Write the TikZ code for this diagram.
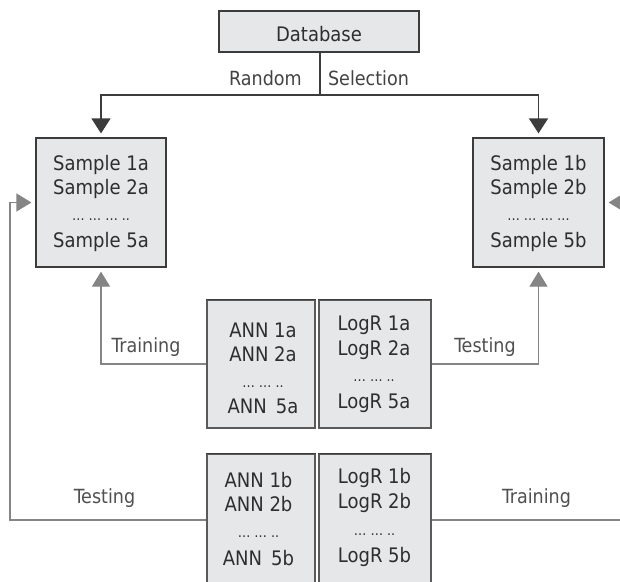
\documentclass[tikz,border=0pt]{standalone}
\usepackage{fontspec}
\setmainfont{DejaVu Sans Condensed}
\usetikzlibrary{arrows.meta}
\definecolor{boxfill}{HTML}{E6E7E9}
\definecolor{darkline}{HTML}{3C3C3C}
\definecolor{grayline}{HTML}{858585}
\definecolor{midline}{HTML}{5A5A5A}
\definecolor{txtc}{HTML}{2E2E2E}
\definecolor{lblc}{HTML}{505050}
\tikzset{
  dbox/.style={draw=darkline, fill=boxfill, line width=1.2pt, inner sep=0pt},
  mbox/.style={draw=midline, fill=boxfill, line width=1.1pt, inner sep=0pt},
  tl/.style={anchor=base, text=txtc, font=\fontsize{20}{24}\selectfont, inner sep=0pt},
  dotl/.style={anchor=base, text=txtc, font=\fontsize{14}{16}\selectfont, inner sep=0pt},
  lab/.style={anchor=base, text=lblc, font=\fontsize{19.5}{24}\selectfont, inner sep=0pt},
  darr/.style={draw=darkline, line width=1.2pt, -{Triangle[width=19pt,length=15pt]}, shorten >=4pt},
  garr/.style={draw=grayline, line width=1.2pt, -{Triangle[width=18pt,length=15pt]}, shorten >=4pt},
  dline/.style={draw=darkline, line width=1.2pt},
}
\begin{document}
\begin{tikzpicture}[x=1pt, y=-1pt]
\clip (0,0) rectangle (620,581);
\fill[white] (0,0) rectangle (620,581);

% boxes
\node[dbox, minimum width=200pt, minimum height=41pt] (db) at (319,31.5) {};
\node[dbox, minimum width=130pt, minimum height=129pt] (sa) at (101,202.5) {};
\node[dbox, minimum width=131pt, minimum height=129pt] (sb) at (538.5,202.5) {};
\node[mbox, minimum width=108pt, minimum height=128pt] (anna) at (261,364) {};
\node[mbox, minimum width=112pt, minimum height=128pt] (loga) at (375,364) {};
\node[mbox, minimum width=108pt, minimum height=132pt] (annb) at (261,520) {};
\node[mbox, minimum width=112pt, minimum height=132pt] (logb) at (375,520) {};
\draw[darkline, line width=1.2pt] (anna.north west) -- (anna.north east)
  (loga.north west) -- (loga.north east)
  (annb.north west) -- (annb.north east)
  (logb.north west) -- (logb.north east);

% texts
\node[tl] (tdb) at (319,41) {Database};
\node[lab, text=txtc!90] (trand) at (265.5,85) {Random};
\node[lab, text=txtc!90] (tsel) at (368.5,85) {Selection};

\node[tl] (s1a) at (101,170) {Sample 1a};
\node[tl] (s2a) at (101,194) {Sample 2a};
\node[dotl] (sda) at (101,220) {… … … ..};
\node[tl] (s5a) at (101,247) {Sample 5a};

\node[tl] (s1b) at (538.5,170) {Sample 1b};
\node[tl] (s2b) at (538.5,194) {Sample 2b};
\node[dotl] (sdb) at (538.5,220) {… … … …};
\node[tl] (s5b) at (538.5,247) {Sample 5b};

\node[tl] (a1a) at (263,337) {ANN 1a};
\node[tl] (a2a) at (263,361) {ANN 2a};
\node[dotl] (ada) at (263,387) {… … ..};
\node[tl] (a5a) at (263,413) {ANN\, 5a};

\node[tl] (l1a) at (374,330) {LogR 1a};
\node[tl] (l2a) at (374,355) {LogR 2a};
\node[dotl] (lda) at (374,381) {… … ..};
\node[tl] (l5a) at (374,408) {LogR 5a};

\node[tl] (a1b) at (258.5,487) {ANN 1b};
\node[tl] (a2b) at (258.5,511) {ANN 2b};
\node[dotl] (adb) at (258.5,537) {… … ..};
\node[tl] (a5b) at (258.5,565) {ANN\, 5b};

\node[tl] (l1b) at (374.5,483) {LogR 1b};
\node[tl] (l2b) at (374.5,508) {LogR 2b};
\node[dotl] (ldb) at (374.5,535) {… … ..};
\node[tl] (l5b) at (374.5,562) {LogR 5b};

\node[lab] (ltr1) at (146,352) {Training};
\node[lab] (lte1) at (485,352) {Testing};
\node[lab] (lte2) at (104.5,503) {Testing};
\node[lab] (ltr2) at (536.5,503) {Training};

% connectors
\coordinate (split) at (320,95);
\draw[dline] (db.south -| split) -- (split);
\draw[darr] (split) -| (sa.north);
\draw[darr] (split) -| (sb.north);

\draw[garr] (anna.west) -| (sa.south);
\draw[garr] (loga.east) -| (sb.south);

\coordinate (lc) at (10,520);
\coordinate (rc) at (634,520);
\draw[garr] (annb.west) -- (lc) |- (sa.west);
\draw[garr] (logb.east) -- (rc) |- (sb.east);
\end{tikzpicture}
\end{document}
